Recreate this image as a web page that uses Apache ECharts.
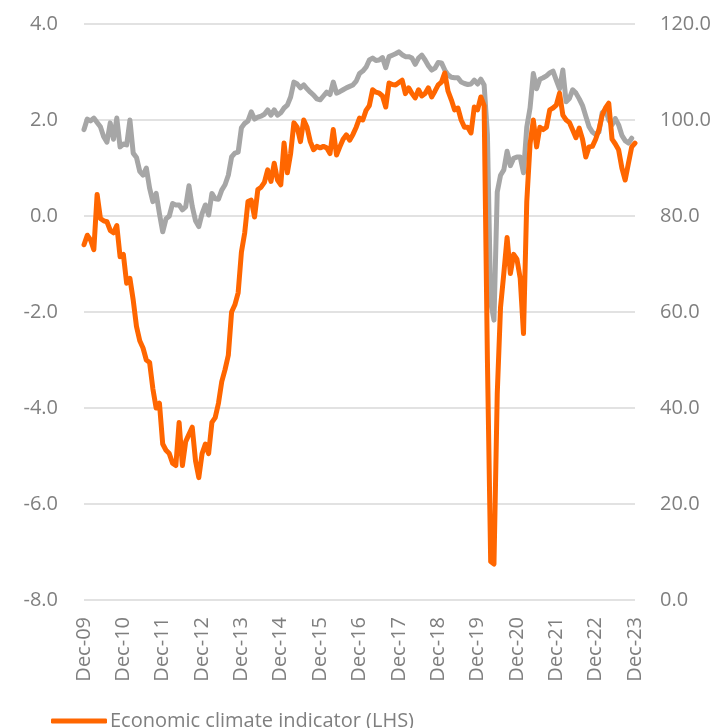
<!DOCTYPE html>
<html>
<head>
<meta charset="utf-8">
<script src="https://cdn.jsdelivr.net/npm/echarts@6/dist/echarts.min.js"></script>
<style>
  html, body { margin: 0; padding: 0; background: #fff; }
  #chart { width: 716px; height: 728px; }
</style>
</head>
<body>
<div id="chart"></div>
<script>
// monthly, Dec-09 .. Dec-23
const startYear = 2009;
const monthNames = ["Jan", "Feb", "Mar", "Apr", "May", "Jun", "Jul", "Aug", "Sep", "Oct", "Nov", "Dec"];
const months = [];
for (let i = 0; i < 169; i++) {
    const m = (11 + i) % 12;
    const y = startYear + Math.floor((11 + i) / 12);
    months.push(monthNames[m] + "-" + String(y % 100).padStart(2, "0"));
}

const leftTicks = [-8, -6, -4, -2, 0, 2, 4];
const rightTicks = [0, 20, 40, 60, 80, 100, 120];

// Economic climate indicator (LHS)
const climate = [
    -0.6, -0.4, -0.5, -0.7, 0.45, -0.05, -0.1, -0.12, -0.3, -0.35, -0.2, -0.85,
    -0.8, -1.4, -1.3, -1.75, -2.3, -2.6, -2.75, -3.0, -3.05, -3.6, -4.0, -3.9,
    -4.75, -4.88, -4.95, -5.15, -5.2, -4.3, -5.2, -4.7, -4.55, -4.4, -5.1, -5.45,
    -4.95, -4.75, -4.95, -4.3, -4.2, -3.9, -3.45, -3.2, -2.9, -2.0, -1.85, -1.6,
    -0.75, -0.35, 0.3, 0.33, -0.02, 0.55, 0.6, 0.7, 0.96, 0.72, 1.1, 0.75,
    0.65, 1.52, 0.9, 1.3, 1.94, 1.85, 1.55, 2.0, 1.85, 1.55, 1.38, 1.45,
    1.42, 1.45, 1.42, 1.3, 1.8, 1.27, 1.44, 1.6, 1.69, 1.58, 1.7, 1.85,
    2.04, 2.0, 2.2, 2.3, 2.63, 2.58, 2.56, 2.5, 2.27, 2.77, 2.74, 2.73,
    2.78, 2.83, 2.55, 2.67, 2.55, 2.46, 2.63, 2.5, 2.55, 2.67, 2.48, 2.6,
    2.73, 2.79, 2.98, 2.6, 2.42, 2.21, 2.25, 2.0, 1.85, 1.85, 1.73, 2.27,
    2.21, 2.48, 2.3, -3.0, -7.2, -7.25, -3.7, -1.9, -1.2, -0.45, -1.2, -0.8,
    -0.9, -1.3, -2.45, 0.3, 1.5, 2.0, 1.44, 1.85, 1.8, 1.85, 2.21, 2.25,
    2.31, 2.56, 2.1, 2.0, 1.95, 1.79, 1.63, 1.83, 1.6, 1.23, 1.44, 1.45,
    1.6, 1.8, 2.1, 2.25, 2.35, 1.6, 1.5, 1.38, 1.0, 0.75, 1.1, 1.44,
    1.52
];

// grey series (RHS)
const confidence = [
    98, 100.2, 99.8, 100.4, 99.5, 98.6, 96.5, 95.4, 99.4, 96, 100.4, 94.4,
    95, 94.8, 100, 93.1, 92.2, 89.3, 88.5, 90, 85.8, 83, 84.7, 80.5,
    76.7, 79.4, 80, 82.6, 82.3, 82.3, 81.3, 81.9, 86.3, 82, 79, 77.8,
    80.5, 82.3, 80.2, 84.7, 83.6, 83.5, 85.4, 86.5, 88.5, 92.3, 93.1, 93.3,
    98.4, 99.3, 99.8, 101.7, 100.2, 100.6, 100.8, 101.2, 102.1, 101, 102.1, 101,
    101.5, 102.5, 103.1, 104.8, 107.9, 107.5, 106.7, 107.3, 106.5, 105.8, 105.2, 104.4,
    104.2, 105, 105.8, 105.3, 107.9, 105.6, 105.9, 106.3, 106.7, 107, 107.3, 108.1,
    109.7, 110.2, 111, 112.5, 112.9, 112.4, 112.5, 113, 110.9, 113.2, 113.5, 113.8,
    114.2, 113.6, 113.2, 113.2, 112.9, 111.6, 112.9, 113.5, 112.5, 111.3, 110.4, 110.8,
    112, 111.9, 110.4, 109.4, 108.9, 108.8, 108.8, 107.9, 107.6, 107.4, 107.5, 108.3,
    107.5, 108.5, 107.3, 97, 62, 58.3, 85, 88.5, 89.6, 93.5, 90.5, 92,
    92.3, 92.3, 89, 98.5, 102.5, 109.7, 106.5, 108.5, 108.8, 109.2, 109.8, 110.2,
    108.3, 106.5, 110.4, 103.8, 104.5, 106.3, 105.6, 104.4, 103, 100.8, 98.6, 97.5,
    97, 97.5, 101.5, 102.2, 100, 99, 100.3, 99, 96.8, 95.7, 95.2, 96.2,
    null
];

const labelColor = "#7f7f7f";
const fontFamily = "'Open Sans', 'Noto Sans', sans-serif";

const chart = echarts.init(document.getElementById("chart"));
chart.setOption({
    animation: false,
    backgroundColor: "#ffffff",
    textStyle: { fontFamily: fontFamily },
    grid: { left: 84, right: 81, top: 24, bottom: 128 },
    legend: {
        data: ["Economic climate indicator (LHS)"],
        left: 46,
        top: 706,
        icon: "roundRect",
        itemWidth: 56,
        itemHeight: 5,
        itemGap: 20,
        textStyle: { color: labelColor, fontSize: 20, fontFamily: fontFamily, padding: [0, 0, 0, -2] }
    },
    xAxis: {
        type: "category",
        data: months,
        boundaryGap: false,
        axisLine: { show: false },
        axisTick: { show: false },
        axisLabel: {
            interval: 11,
            rotate: 90,
            margin: 17,
            color: labelColor,
            fontSize: 20,
            fontFamily: fontFamily
        },
        splitLine: { show: false }
    },
    yAxis: [{
        type: "value",
        min: leftTicks[0],
        max: leftTicks[leftTicks.length - 1],
        interval: 2,
        axisLine: { show: false },
        axisTick: { show: false },
        axisLabel: {
            margin: 26,
            color: labelColor,
            fontSize: 20,
            fontFamily: fontFamily,
            formatter: v => v.toFixed(1)
        },
        splitLine: { lineStyle: { color: "#d9d9d9", width: 1.5 } }
    }, {
        type: "value",
        min: rightTicks[0],
        max: rightTicks[rightTicks.length - 1],
        interval: 20,
        axisLine: { show: false },
        axisTick: { show: false },
        axisLabel: {
            margin: 25,
            color: labelColor,
            fontSize: 20,
            fontFamily: fontFamily,
            formatter: v => v.toFixed(1)
        },
        splitLine: { show: false }
    }],
    series: [{
        name: "Confidence indicator (RHS)",
        type: "line",
        yAxisIndex: 1,
        data: confidence,
        showSymbol: false,
        symbol: "none",
        lineStyle: { color: "#a6a6a6", width: 5, cap: "round", join: "round" },
        itemStyle: { color: "#a6a6a6" }
    }, {
        name: "Economic climate indicator (LHS)",
        type: "line",
        yAxisIndex: 0,
        data: climate,
        showSymbol: false,
        symbol: "none",
        lineStyle: { color: "#ff6600", width: 5, cap: "round", join: "round" },
        itemStyle: { color: "#ff6600" }
    }]
});
</script>
</body>
</html>
